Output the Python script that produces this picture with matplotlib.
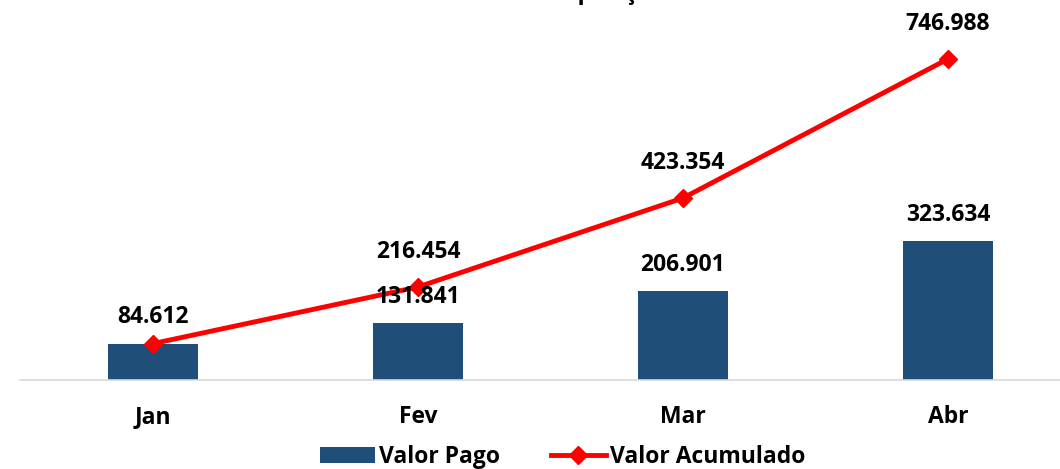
import matplotlib.pyplot as plt
import numpy as np

# data
meses = ['Jan', 'Fev', 'Mar', 'Abr']
valor_pago = [84612, 131841, 206901, 323634]
valor_acumulado = [84612, 216454, 423354, 746988]

def fmt(v):
    return f"{v:,}".replace(',', '.')

plt.rcParams['font.family'] = ['Open Sans', 'DejaVu Sans']

fig = plt.figure(figsize=(10.6, 4.69), dpi=100)
ax = fig.add_axes([0.0193, 0.1898, 1.0, 0.81])

x = np.arange(len(meses))
bars = ax.bar(x, valor_pago, width=0.34, color='#1F4E79', label='Valor Pago', zorder=2)
line, = ax.plot(x, valor_acumulado, color='#FF0000', lw=3.5, marker='D', ms=9.5,
                label='Valor Acumulado', zorder=3)

fs = 16.5
# labels for bars
for xi, v in zip(x, valor_pago):
    ax.annotate(fmt(v), (xi, v), xytext=(0, 19), textcoords='offset points',
                ha='center', va='center', fontsize=fs, fontweight='bold')
# labels for line (skip first, same as bar)
for xi, v in list(zip(x, valor_acumulado))[1:]:
    ax.annotate(fmt(v), (xi, v), xytext=(0, 25), textcoords='offset points',
                ha='center', va='center', fontsize=fs, fontweight='bold')

ax.set_xlim(-0.5, 3.5)
ax.set_ylim(0, 884000)
ax.set_xticks(x)
ax.set_xticklabels(meses, fontsize=fs, fontweight='bold')
ax.tick_params(axis='x', length=0, pad=18)
ax.set_yticks([])
for s in ['top', 'right', 'left']:
    ax.spines[s].set_visible(False)
ax.spines['bottom'].set_color('#D9D9D9')
ax.spines['bottom'].set_linewidth(1.2)

# title mostly cut off at top like the reference
fig.text(0.515, 1.014, 'Contratos e Aquisições', ha='center', va='center',
         fontsize=fs, fontweight='bold')

fig.legend([bars, line], ['Valor Pago', 'Valor Acumulado'], loc='lower center',
           bbox_to_anchor=(0.531, -0.043), ncol=2, frameon=False,
           prop={'size': fs, 'weight': 'bold'},
           handlelength=2.4, handletextpad=0.2, columnspacing=2.2)

fig.savefig('out.png', dpi=100)
